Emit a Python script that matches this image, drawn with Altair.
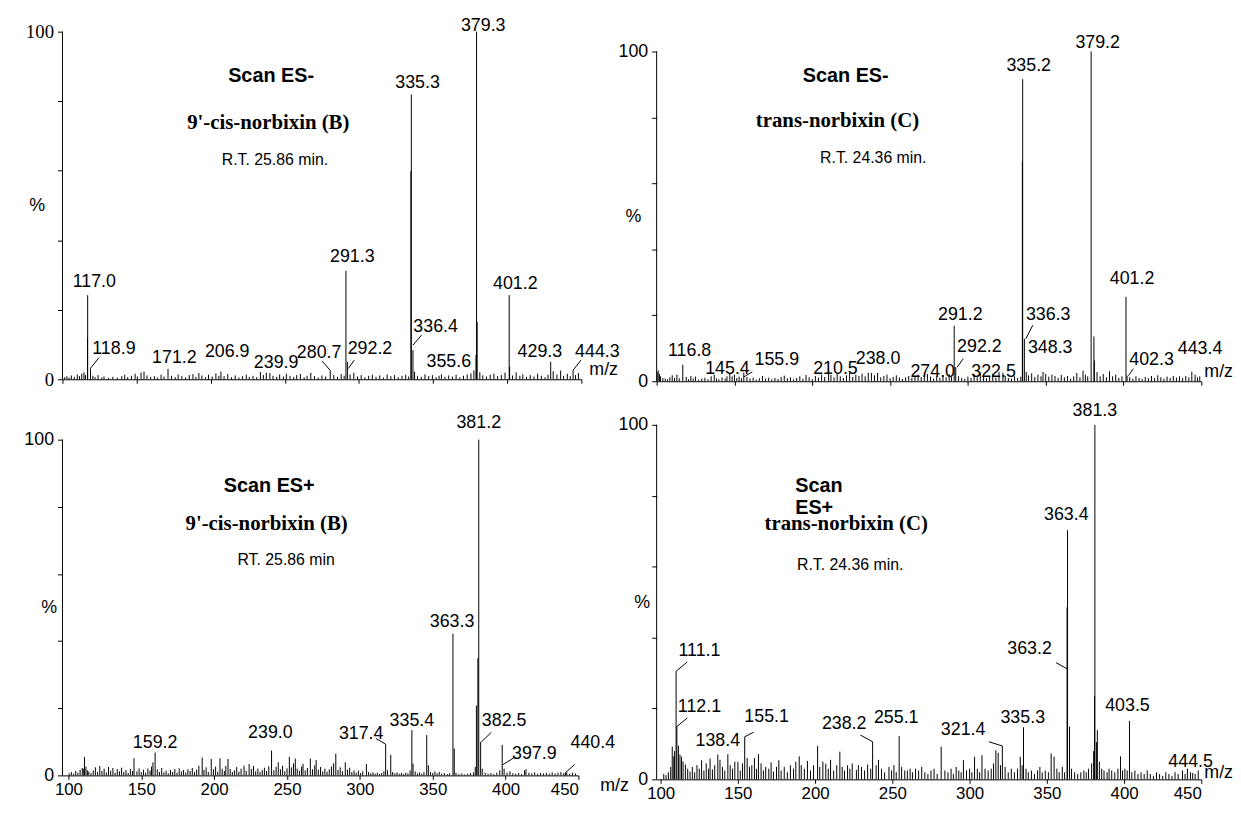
import altair as alt
import pandas as pd

FONT = "Liberation Sans"
SERIF = "Liberation Serif"

# ---------------- Panel A : Scan ES-, 9'-cis-norbixin (B) ----------------
a_peaks = [
    (116.9, 12.0), (117.0, 24.2), (118.9, 3.1), (171.2, 3.0), (206.9, 2.2), (239.9, 1.8),
    (280.6, 2.6), (291.2, 31.2), (292.2, 5.0), (335.0, 59.8), (335.3, 81.9), (336.4, 8.4),
    (355.6, 1.4), (378.9, 7.0), (379.3, 100.0), (379.7, 16.5), (401.3, 24.2), (401.6, 3.6),
    (429.3, 5.0), (444.4, 2.6),
    (101.5, 0.6), (103, 0.9), (104.5, 0.5), (106, 1.1), (108, 0.7), (110, 1.4), (111.5, 0.9),
    (113, 1.6), (114.5, 2.0), (115.5, 1.2), (120.5, 1.0), (122, 0.6), (124, 1.2), (126.5, 0.5),
    (128, 0.8), (131, 0.4), (134, 0.7), (137, 0.5), (140, 0.9), (142, 1.3), (144, 0.6),
    (146.5, 1.0), (149, 1.6), (150.5, 0.8), (153, 1.9), (155, 2.2), (157, 1.1), (159.5, 0.7),
    (162, 0.9), (164, 0.5), (166.5, 1.3), (168.5, 0.8), (173.5, 1.0), (176, 0.6), (178, 1.4),
    (180.5, 0.9), (183, 0.5), (185.5, 1.2), (188, 1.5), (190, 0.7), (192, 1.8), (194, 1.1),
    (196.5, 0.6), (198.5, 1.3), (201, 0.8), (203.5, 1.7), (205.5, 1.0), (209, 0.9), (211.5, 1.5),
    (214, 0.6), (216.5, 1.1), (219, 0.5), (221.5, 0.9), (224, 1.3), (226, 0.7), (228.5, 1.0),
    (231, 0.6), (233.5, 2.1), (235.5, 1.2), (237.5, 1.9), (242, 1.0), (244.5, 0.7), (246.5, 1.4),
    (249, 0.8), (251, 1.6), (253.5, 1.0), (256, 0.7), (258, 1.2), (260.5, 1.5), (263, 0.6),
    (265, 1.0), (267.5, 1.8), (270, 0.9), (272.5, 0.5), (275, 1.1), (277.5, 0.8), (283, 1.2),
    (285.5, 0.7), (288, 1.5), (290, 1.0), (294, 1.4), (296.5, 1.9), (299, 0.8), (301.5, 1.2),
    (304, 0.6), (306.5, 1.0), (309, 1.3), (311.5, 0.7), (314, 1.1), (316.5, 0.5), (319, 1.4),
    (321.5, 0.9), (324, 1.2), (326.5, 0.6), (329, 1.0), (331.5, 1.3), (333.5, 0.8), (337.5, 2.2),
    (339.5, 1.0), (342, 0.7), (344.5, 1.4), (347, 0.9), (349.5, 1.2), (352, 0.6), (354, 1.0),
    (358, 0.7), (360.5, 1.1), (363, 0.8), (365.5, 1.3), (368, 0.6), (370.5, 1.0), (373, 1.4),
    (375.5, 1.7), (377.5, 2.5), (381.5, 2.0), (383.5, 1.1), (386, 0.8), (388.5, 1.3), (391, 1.6),
    (393.5, 0.9), (396, 1.2), (398.5, 1.9), (403.5, 1.1), (406, 2.0), (408.5, 1.0), (410.5, 1.4),
    (413, 0.7), (415.5, 1.2), (418, 0.8), (420.5, 1.6), (423, 1.0), (425.5, 0.6), (427.5, 1.3),
    (431, 2.3), (433.5, 1.4), (436, 2.5), (438, 1.0), (440.5, 1.6), (442.5, 0.9), (446, 1.2),
    (448, 1.8),
]
a_labels = [
    ("379.3", 383.8, 101.6), ("335.3", 339.5, 85.1), ("291.3", 295.5, 35.1), ("117.0", 121.5, 28.1),
    ("118.9", 134.7, 8.8), ("171.2", 175.5, 6.2), ("206.9", 211.1, 7.7), ("239.9", 244.1, 4.8),
    ("280.7", 273.1, 7.4), ("292.2", 307.4, 8.8), ("336.4", 351.7, 15.1), ("355.6", 360.6, 5.0),
    ("401.2", 405.4, 27.3), ("429.3", 422.0, 7.9), ("444.3", 460.8, 7.9),
]
a_leaders = [
    (118.8, 3.1, 124.6, 6.2), (280.5, 2.6, 275.2, 5.2), (292.8, 3.1, 296.8, 5.5),
    (336.4, 9.8, 342.2, 12.7), (444.4, 2.6, 449.7, 5.5),
]
a_titles = [
    ("Scan ES-", 240.7, 87.2, "bold"),
    ("9'-cis-norbixin (B)", 238.8, 73.8, "serif"),
    ("R.T. 25.86 min.", 243.3, 63.2, "plain"),
]

# ---------------- Panel B : Scan ES-, trans-norbixin (C) ----------------
b_peaks = [
    (116.8, 5.0), (145.2, 1.5), (156.0, 2.6), (210.5, 3.8), (238.0, 2.5), (274.0, 2.2),
    (291.2, 16.8), (292.2, 4.3), (322.5, 2.6), (335.0, 66.7), (335.2, 91.6), (336.3, 12.9),
    (348.3, 2.8), (379.2, 100.0), (381.0, 13.6), (381.3, 6.3), (401.6, 25.6), (402.3, 1.7),
    (443.9, 2.9),
    (100.3, 2.8), (101, 3.3), (101.8, 2.2), (102.5, 1.5), (104, 1.0), (105.5, 0.8), (107, 0.6),
    (108.5, 1.2), (110, 1.8), (111.5, 1.0), (113, 2.0), (114.5, 0.9), (119, 1.3), (120.5, 0.6),
    (122, 1.6), (123.5, 0.8), (125, 1.4), (127, 0.5), (129, 0.8), (131, 1.1), (133, 0.6),
    (135, 1.5), (137, 2.0), (138.5, 0.9), (140, 0.6), (142, 1.2), (144, 0.8), (147, 2.2),
    (148.5, 1.5), (150, 2.0), (151.5, 1.0), (153, 1.4), (154.5, 0.9), (158, 1.3), (160, 0.8),
    (162, 1.1), (164, 0.5), (166, 0.9), (168, 1.6), (170, 0.8), (172, 1.1), (174, 0.6),
    (176, 1.0), (178, 0.7), (180, 1.3), (182, 1.7), (184, 0.9), (186, 1.2), (188, 0.6),
    (190, 1.0), (192, 1.5), (194, 0.8), (196, 1.9), (198, 1.2), (200, 0.7), (202, 1.6),
    (204, 1.1), (206, 2.0), (208, 1.3), (212, 1.9), (214, 1.2), (216, 2.6), (218, 1.5),
    (220, 1.0), (222, 1.8), (224, 2.5), (226, 1.3), (228, 2.0), (230, 1.6), (232, 2.3),
    (234, 1.5), (236, 2.6), (240, 1.8), (242, 2.5), (244, 1.2), (246, 1.6), (248, 2.0),
    (250, 0.9), (252, 1.3), (254, 1.8), (256, 1.1), (258, 0.7), (260, 1.2), (262, 1.6),
    (264, 1.0), (266, 1.5), (268, 2.0), (270, 1.3), (272, 1.8), (276, 1.4), (278, 0.8),
    (280, 1.5), (282, 1.1), (284, 1.8), (286, 1.2), (288, 2.2), (289.5, 1.4), (294, 1.5),
    (296, 1.0), (298, 0.7), (300, 1.4), (302, 1.0), (304, 2.1), (306, 1.2), (308, 2.6),
    (310, 1.5), (312, 0.9), (314, 1.4), (316, 2.3), (318, 1.1), (320, 2.8), (324, 1.6),
    (326, 1.0), (328, 0.8), (330, 1.5), (332, 1.0), (334, 1.4), (337.5, 2.8), (339, 1.8),
    (341, 2.4), (343, 1.3), (345, 2.0), (347, 1.5), (350, 2.2), (352, 1.4), (354, 2.0),
    (356, 1.6), (358, 1.0), (360, 1.9), (362, 1.2), (364, 1.6), (366, 0.8), (368, 1.5),
    (370, 2.5), (372, 1.2), (374, 3.2), (375.5, 2.0), (377, 1.5), (383, 2.8), (385, 1.5),
    (387, 2.2), (389, 1.2), (391, 3.0), (393, 1.5), (395, 2.0), (397, 1.0), (399, 1.5),
    (404, 1.2), (406, 0.8), (408, 1.5), (410, 1.0), (412, 0.7), (414, 1.3), (416, 0.9),
    (418, 1.6), (420, 1.0), (422, 1.8), (424, 1.2), (426, 0.8), (428, 1.4), (430, 1.0),
    (432, 1.6), (434, 1.1), (436, 1.5), (438, 1.0), (440, 1.6), (442, 1.2), (446, 2.0),
    (447.5, 1.2), (449, 1.5),
]
b_labels = [
    ("379.2", 383.4, 102.7), ("335.2", 339.1, 95.6), ("401.2", 405.5, 30.9), ("291.2", 295.1, 20.2),
    ("336.3", 351.6, 20.2), ("348.3", 352.9, 10.2), ("292.2", 307.4, 10.4), ("116.8", 121.2, 9.3),
    ("145.4", 145.5, 3.8), ("155.9", 177.2, 6.5), ("210.5", 214.9, 3.6), ("238.0", 242.3, 6.8),
    ("274.0", 277.4, 2.7), ("322.5", 316.5, 2.7), ("402.3", 418.0, 6.3), ("443.4", 449.2, 9.8),
]
b_leaders = [
    (156.0, 1.3, 161.5, 2.9), (293.1, 4.3, 297.0, 6.8), (337.3, 12.9, 341.7, 17.0),
    (403.2, 1.7, 406.3, 3.8),
]
b_titles = [
    ("Scan ES-", 221.5, 92.6, "bold"),
    ("trans-norbixin (C)", 216.2, 78.9, "serif"),
    ("R.T. 24.36 min.", 239.2, 67.7, "plain"),
]

# ---------------- Panel C : Scan ES+, 9'-cis-norbixin (B) ----------------
c_peaks = [
    (159.5, 6.8), (239.4, 7.4), (317.7, 9.3), (321.2, 6.1), (335.7, 13.5), (345.9, 12.0),
    (363.9, 42.2), (364.8, 8.0), (380.0, 20.8), (381.0, 34.9), (381.6, 100.0), (382.9, 10.0),
    (397.7, 9.1), (441.1, 0.8),
    (111, 5.5), (113, 1.5), (145, 5.1), (158, 3.9), (191.8, 5.3), (198, 4.9), (204, 5.1),
    (209.5, 4.9), (220.5, 2.9), (224, 3.4), (244, 3.9), (251.6, 5.5), (255.7, 5.0), (261, 3.4),
    (266, 5.0), (270, 4.6), (282, 3.6), (283.5, 6.5), (290, 3.9), (304.5, 3.4),
    (100.5, 0.6), (102, 1.0), (103.5, 0.5), (105, 1.3), (106.5, 0.8), (108, 1.7), (109.5, 2.2),
    (110.5, 2.0), (112, 2.6), (114, 1.2), (115.5, 0.7), (117, 1.5), (118.5, 2.4), (120, 1.0),
    (121.5, 2.8), (123, 1.3), (124.5, 2.0), (126, 0.9), (127.5, 2.5), (129, 1.4), (130.5, 2.2),
    (132, 0.8), (133.5, 1.9), (135, 1.2), (136.5, 2.3), (138, 1.0), (139.5, 1.6), (141, 0.7),
    (142.5, 1.9), (144, 1.3), (147, 1.2), (148.5, 2.1), (150, 1.0), (151.5, 1.7), (153, 0.8),
    (154.5, 2.0), (156, 1.4), (157, 2.6), (161, 1.8), (162.5, 1.0), (164, 2.2), (165.5, 0.9),
    (167, 1.4), (168.5, 0.6), (170, 1.6), (171.5, 1.0), (173, 1.9), (174.5, 0.8), (176, 2.1),
    (177.5, 1.2), (179, 1.6), (180.5, 0.9), (182, 1.8), (183.5, 1.3), (185, 2.2), (186.5, 1.0),
    (188, 1.7), (189.5, 2.9), (193, 1.6), (194.5, 2.4), (196, 1.0), (199.5, 1.8), (201, 2.6),
    (202.5, 1.1), (205.5, 2.0), (207, 1.3), (208, 2.8), (211, 1.9), (212.5, 1.0), (214, 1.5),
    (215.5, 2.5), (217, 1.1), (218.5, 2.0), (222, 1.4), (225.5, 1.9), (227, 2.8), (228.5, 1.2),
    (230, 2.0), (231.5, 1.0), (233, 1.6), (234.5, 2.3), (236, 1.3), (237.5, 2.7), (241, 1.5),
    (242.5, 2.5), (245.5, 1.8), (247, 2.9), (248.5, 1.2), (250, 2.1), (253, 2.4), (254.5, 3.6),
    (257, 2.0), (258.5, 1.4), (260, 2.6), (262.5, 1.5), (264, 2.2), (267.5, 1.8), (269, 3.0),
    (271.5, 1.7), (273, 2.5), (274.5, 1.2), (276, 2.0), (277.5, 1.1), (279, 1.8), (280.5, 2.6),
    (285, 1.6), (286.5, 2.4), (288, 1.3), (291.5, 1.7), (293, 2.3), (294.5, 1.0), (296, 1.5),
    (297.5, 0.8), (299, 1.4), (300.5, 0.7), (302, 1.2), (306, 1.0), (307.5, 0.6), (309, 0.9),
    (310.5, 0.5), (312, 0.8), (313.5, 0.4), (315, 0.7), (316.5, 1.2), (319, 1.5), (322.5, 1.0),
    (324, 0.6), (325.5, 0.9), (327, 0.5), (328.5, 0.7), (330, 0.4), (331.5, 0.8), (333, 0.6),
    (334.5, 1.5), (336.5, 3.5), (338, 1.2), (339.5, 0.6), (341, 0.9), (342.5, 0.5), (344, 1.0),
    (347, 3.0), (348.5, 1.0), (350, 0.7), (351.5, 1.2), (353, 0.6), (354.5, 1.0), (356, 0.5),
    (358, 0.7), (360, 0.4), (361.5, 0.6), (366, 0.8), (368, 0.4), (370, 0.6), (372, 0.3),
    (374, 0.5), (376, 0.7), (378, 0.9), (379.2, 2.5), (384, 2.0), (386, 0.8), (388, 0.5),
    (390, 0.7), (392, 0.4), (394, 0.8), (396, 1.5), (399, 2.0), (401, 0.8), (403, 1.2),
    (405, 0.6), (407, 0.5), (409, 0.7), (411, 0.4), (413, 1.5), (414, 1.8), (416, 0.8),
    (418, 0.6), (420, 0.9), (422, 0.5), (424, 0.7), (426, 0.6), (428, 0.8), (430, 0.5),
    (432, 0.9), (434, 0.6), (436, 0.8), (438, 1.0), (440, 0.7), (442, 0.9), (444, 0.5),
    (446, 0.8), (448, 0.6),
]
c_labels = [
    ("381.2", 381.6, 104.9), ("363.3", 363.3, 45.7), ("382.5", 399.0, 16.1), ("335.4", 335.7, 16.1),
    ("317.4", 300.9, 12.2), ("239.0", 238.6, 12.5), ("159.2", 159.5, 9.6), ("397.9", 419.7, 6.3),
    ("440.4", 459.9, 9.6),
]
c_leaders = [
    (311.0, 11.0, 317.7, 9.3), (383.5, 10.0, 390.2, 12.8), (398.2, 3.2, 406.2, 5.4),
    (441.1, 0.8, 447.3, 3.2),
]
c_titles = [
    ("Scan ES+", 237.8, 86.3, "bold"),
    ("9'-cis-norbixin (B)", 236.0, 74.9, "serif"),
    ("RT. 25.86 min", 249.4, 64.2, "plain"),
]

# ---------------- Panel D : Scan ES+, trans-norbixin (C) ----------------
d_peaks = [
    (110.0, 30.5), (110.5, 14.9), (154.4, 12.0), (237.2, 10.6), (254.4, 12.2), (281.6, 9.2),
    (317.0, 8.2), (321.2, 9.4), (334.9, 14.7), (363.1, 48.5), (363.4, 70.3), (364.7, 14.9),
    (380.9, 23.4), (381.1, 100.0), (382.7, 13.9), (397.7, 6.5), (403.5, 16.5), (444.4, 1.8),
    (102, 1.5), (103.5, 1.2), (105, 2.0), (106.5, 3.5), (107.5, 9.2), (108.5, 6.5), (109, 8.0),
    (111.5, 9.5), (112.5, 7.0), (113.5, 6.4), (114.5, 5.0), (116, 4.2), (117.5, 3.0), (119, 2.2),
    (120.5, 3.5), (122, 2.0), (123.5, 4.0), (125, 3.0), (126.5, 5.4), (128, 2.5), (129.5, 4.5),
    (131, 3.0), (132, 5.9), (133.5, 2.8), (135, 4.0), (137, 7.0), (138.4, 5.5), (140, 3.5),
    (141.5, 2.5), (143.5, 7.1), (145, 4.0), (146.5, 3.0), (148, 5.0), (150, 4.9), (151.5, 2.5),
    (153, 4.5), (156, 6.0), (157.5, 3.5), (159, 4.0), (160.7, 6.0), (162, 3.0), (163.3, 7.1),
    (165, 4.5), (166.5, 2.5), (168, 3.5), (170, 3.0), (171.5, 4.8), (173, 2.2), (175, 3.5),
    (176.5, 5.4), (178, 2.5), (180, 3.5), (182, 2.0), (184, 4.0), (186, 3.0), (187.5, 5.0),
    (189.7, 6.5), (191, 4.0), (193, 3.0), (195, 5.2), (197, 2.5), (199, 4.0), (201.6, 9.4),
    (203, 3.5), (205, 5.0), (206.9, 4.4), (208.5, 3.0), (210, 5.5), (212, 2.5), (214, 4.0),
    (216, 7.8), (217.5, 3.5), (219, 2.5), (221, 4.0), (222.5, 3.0), (224, 4.5), (226.7, 2.7),
    (228, 4.0), (230, 3.5), (232, 2.5), (234, 4.2), (236, 3.0), (239.5, 4.0), (241, 5.5),
    (243, 3.0), (245, 2.0), (247.8, 3.5), (249.5, 2.5), (251, 4.0), (252.5, 2.0), (256, 3.5),
    (258, 2.5), (259.7, 2.5), (261.5, 3.0), (263, 2.0), (265, 3.0), (267, 2.5), (269, 3.5),
    (271, 2.0), (273, 1.5), (275, 2.5), (277, 3.0), (279, 1.5), (284, 2.5), (286, 2.0),
    (288, 3.0), (289.5, 1.5), (291.3, 3.5), (293, 2.5), (294.5, 2.0), (296, 5.4), (298, 2.5),
    (300, 3.0), (301.5, 2.0), (303.2, 6.4), (305, 3.0), (306.5, 2.0), (308, 6.8), (310, 3.0),
    (312, 2.5), (314, 3.0), (315.5, 4.5), (318.5, 7.5), (320, 4.0), (323, 3.5), (325, 2.0),
    (327, 3.0), (329, 2.0), (331, 3.0), (332.8, 6.4), (334, 4.0), (336.5, 3.0), (338, 2.0),
    (340, 2.5), (342, 1.5), (344, 2.5), (345.5, 3.5), (347, 2.0), (349, 2.5), (351, 2.0),
    (352.8, 7.3), (354.7, 6.4), (356.5, 3.0), (358, 2.0), (360, 3.5), (361.5, 2.0), (366, 3.0),
    (368, 2.0), (370, 1.5), (372, 2.0), (374, 2.5), (375.5, 2.0), (377, 3.0), (379, 4.5),
    (380.3, 8.0), (382.1, 10.5), (384, 5.0), (385.5, 3.0), (387, 2.5), (389, 2.0), (390.3, 3.0),
    (392, 2.5), (394, 2.0), (396, 3.0), (399, 2.5), (400.5, 3.0), (402, 2.5), (405, 2.0),
    (407, 2.5), (409, 1.5), (411, 2.0), (413, 1.5), (415, 2.5), (417, 1.5), (419, 1.0),
    (421, 2.0), (423, 1.5), (425, 1.0), (427, 2.0), (429, 1.5), (431, 1.0), (433, 2.0),
    (435, 1.5), (437.8, 2.5), (439.5, 1.5), (441, 3.0), (443, 2.0), (446, 1.5), (448, 2.5),
]
d_labels = [
    ("381.3", 381.1, 104.0), ("363.4", 362.6, 74.6), ("363.2", 338.8, 36.7), ("111.1", 125.1, 36.2),
    ("112.1", 125.1, 20.4), ("138.4", 137.0, 10.9), ("155.1", 168.6, 17.5), ("238.2", 218.8, 15.6),
    ("255.1", 252.5, 17.3), ("321.4", 295.8, 13.9), ("335.3", 334.4, 17.3), ("403.5", 402.2, 20.6),
    ("444.5", 443.1, 4.9),
]
d_leaders = [
    (110.0, 30.5, 117.2, 33.1), (110.5, 14.9, 117.2, 17.3), (154.4, 12.0, 160.2, 13.3),
    (229.3, 12.5, 237.2, 10.6), (312.5, 10.6, 321.2, 9.4), (356.0, 32.9, 363.1, 31.2),
]
d_titles = [
    ("Scan", 187.1, 82.7, "boldleft"),
    ("ES+", 187.1, 76.5, "boldleft"),
    ("trans-norbixin (C)", 220.1, 71.9, "serif"),
    ("R.T. 24.36 min.", 222.7, 60.4, "plain"),
]

top_ticks = [100, 125, 150, 175, 200, 225, 250, 275, 300, 325, 350, 375, 400, 425, 450]
bottom_ticks = [100 + 6.25 * i for i in range(57)]
y_ticks = [0, 10, 20, 30, 40, 50, 60, 70, 80, 90, 100]

TITLE_STYLES = {
    "bold": dict(font=FONT, fontSize=20, fontWeight="bold", align="center"),
    "boldleft": dict(font=FONT, fontSize=20, fontWeight="bold", align="left"),
    "serif": dict(font=SERIF, fontSize=21, fontWeight="bold", align="center"),
    "plain": dict(font=FONT, fontSize=16, fontWeight="normal", align="center"),
}


def panel(peaks, labels, leaders, titles, xdom, ymax, width, height, xlabels,
          mz_dx, mz_dy, ticks, pct_dx, yfont, yfontsize):
    pk = pd.DataFrame(peaks, columns=["mz", "ab"])
    xs = alt.Scale(domain=xdom, nice=False, zero=False)
    ys = alt.Scale(domain=[0, ymax], nice=False, zero=True)
    xaxis = alt.Axis(
        values=ticks, tickSize=4, tickColor="black", domainColor="black",
        labels=xlabels,
        labelExpr="datum.value % 50 === 0 ? format(datum.value, 'd') : ''",
        labelFont=FONT, labelFontSize=17, labelColor="black", labelOverlap=False,
        labelPadding=2, grid=False,
        title="m/z", titleFont=FONT, titleFontSize=18, titleFontWeight="normal",
        titleColor="black", titleAngle=0, titleAlign="center", titleBaseline="middle",
        titleX=width + mz_dx, titleY=mz_dy,
    )
    yaxis = alt.Axis(
        values=y_ticks, tickSize=5, tickColor="black", domain=False, grid=False,
        labelExpr="datum.value == 0 ? '0' : (datum.value == 100 ? '100' : '')",
        labelFont=yfont, labelFontSize=yfontsize, labelColor="black", labelOverlap=False,
        labelPadding=4,
        title="%", titleFont=FONT, titleFontSize=18, titleFontWeight="normal",
        titleColor="black", titleAngle=0, titleAlign="center", titleBaseline="middle",
        titleX=pct_dx, titleY=height * (1 - 50.0 / ymax),
    )
    bars = alt.Chart(pk).mark_rule(color="black", strokeWidth=1).encode(
        x=alt.X("mz:Q", scale=xs, axis=xaxis),
        y=alt.Y("ab:Q", scale=ys, axis=yaxis),
        y2=alt.datum(0),
    )
    yline = alt.Chart(pd.DataFrame({"mz": [xdom[0]], "ab": [0], "ab2": [100]})).mark_rule(
        color="black", strokeWidth=1
    ).encode(x="mz:Q", y="ab:Q", y2="ab2:Q")
    ld = pd.DataFrame(leaders, columns=["mz", "ab", "mz2", "ab2"])
    lead = alt.Chart(ld).mark_rule(color="black", strokeWidth=1).encode(
        x="mz:Q", y="ab:Q", x2="mz2:Q", y2="ab2:Q"
    )
    lb = pd.DataFrame(labels, columns=["t", "mz", "ab"])
    lab = alt.Chart(lb).mark_text(
        font=FONT, fontSize=18, color="black", baseline="middle", align="center"
    ).encode(x="mz:Q", y="ab:Q", text="t:N")
    layers = [bars, yline, lead, lab]
    tt = pd.DataFrame(titles, columns=["t", "mz", "ab", "style"])
    for style, sub in tt.groupby("style", sort=False):
        layers.append(
            alt.Chart(sub[["t", "mz", "ab"]]).mark_text(
                color="black", baseline="middle", **TITLE_STYLES[style]
            ).encode(x="mz:Q", y="ab:Q", text="t:N")
        )
    return alt.layer(*layers).properties(width=width, height=height)


pA = panel(a_peaks, a_labels, a_leaders, a_titles, [100, 450], 100, 524, 351, False,
           22, -10, top_ticks, -26, SERIF, 19)
pB = panel(b_peaks, b_labels, b_leaders, b_titles, [100, 450], 106.0, 550, 353, False,
           17, -10, top_ticks, -24, FONT, 18)
pC = panel(c_peaks, c_labels, c_leaders, c_titles, [95.9, 450], 104.4, 521, 354, True,
           36, 10, bottom_ticks, -14, FONT, 18)
pD = panel(d_peaks, d_labels, d_leaders, d_titles, [97.4, 450], 100, 550, 358, True,
           17, -7, bottom_ticks, -15, FONT, 18)

chart = alt.ConcatChart(
    concat=[pA, pB, pC, pD], columns=2, spacing={"row": 44, "column": 76},
    bounds="flush", align="each",
).properties(
    padding={"left": 15, "top": 5, "right": 0, "bottom": 0}, background="white"
).configure_view(stroke=None)

chart.save("out.html", embed_options={"renderer": "svg", "actions": False})
